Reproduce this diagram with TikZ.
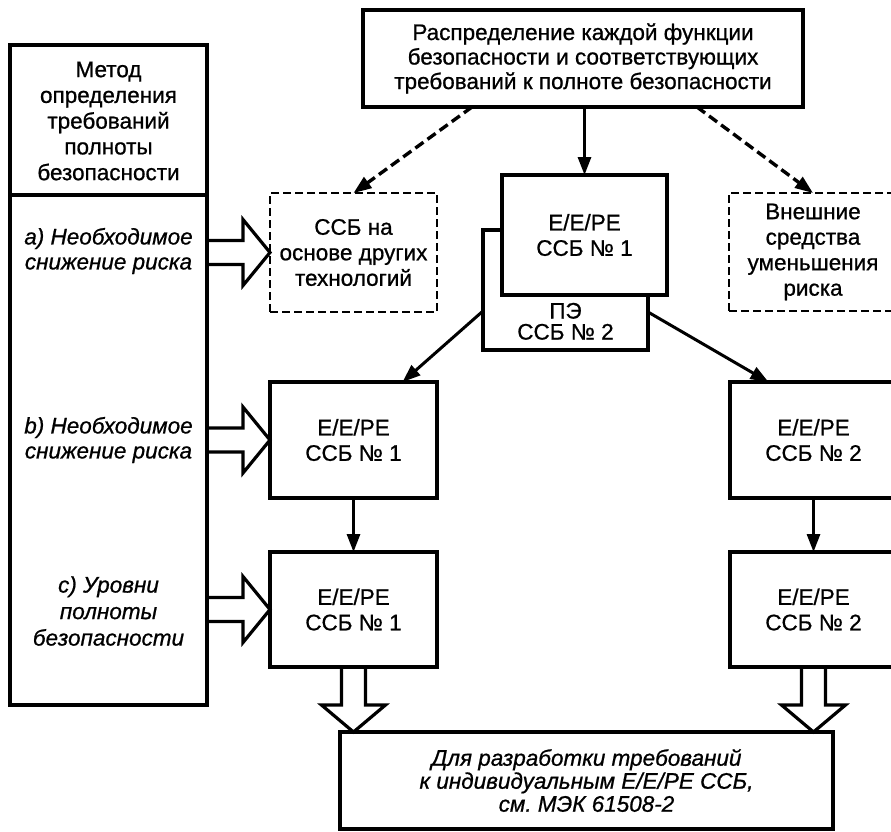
\documentclass[tikz,border=0pt]{standalone}
\usepackage{fontspec}
\setmainfont{Liberation Sans}[FakeBold=0.8]
\usepackage{tikz}
\usetikzlibrary{arrows.meta, positioning, calc}
\frenchspacing
\tikzset{
  >=Triangle,
  box/.style={draw, line width=3.4pt, fill=white, inner sep=0pt, outer sep=0pt,
    minimum width=167pt, minimum height=117pt, align=center,
    font=\fontsize{22.5pt}{25.5pt}\selectfont},
  dashbox/.style={box, line width=2.6pt, dash pattern=on 8pt off 4pt},
  plaintext/.style={inner sep=0pt, align=center, font=\fontsize{22.5pt}{25.75pt}\selectfont},
  flowarrow/.style={-{Triangle[length=18pt, width=13pt]}, line width=3pt},
  dasharrow/.style={flowarrow, line width=3.4pt, dash pattern=on 10pt off 5pt},
  blockarrow/.style={line width=3.2pt, miter limit=20}
}
% hollow arrows
\newcommand{\hollowright}[2]{%
  \draw[blockarrow] let \p1=(#1), \p2=(#2) in
    (\x1,\y2+12pt) -- (\x2-27pt,\y2+12pt) -- (\x2-27pt,\y2+33pt) -- (\x2,\y2)
    -- (\x2-27pt,\y2-33pt) -- (\x2-27pt,\y2-12pt) -- (\x1,\y2-12pt);}
\newcommand{\hollowdown}[2]{%
  \draw[blockarrow] let \p1=(#1), \p2=(#2) in
    (\x1-12pt,\y1) -- (\x1-12pt,\y2+27pt) -- (\x1-32pt,\y2+27pt) -- (\x1,\y2)
    -- (\x1+32pt,\y2+27pt) -- (\x1+12pt,\y2+27pt) -- (\x1+12pt,\y1);}

\begin{document}
\begin{tikzpicture}[x=1pt, y=-1pt]
    \useasboundingbox (0,0) rectangle (891,831);
    \clip (0,0) rectangle (891,831);
    % method column
    \node (meth) [box, minimum width=197pt, minimum height=660pt] at (108.5,375) {};
    \draw[line width=3.4pt] ($(meth.north west)+(0,150)$) -- ($(meth.north east)+(0,150)$);
    \node (methhead) [plaintext] at (108.5,121) {Метод\\определения\\требований\\полноты\\безопасности};
    \node (la) [plaintext, font=\fontsize{22.5pt}{25pt}\selectfont\itshape] at (108.5,251) {а) Необходимое\\снижение риска};
    \node (lb) [plaintext, font=\fontsize{22.5pt}{25pt}\selectfont\itshape] at (108.5,440) {b) Необходимое\\снижение риска};
    \node (lc) [plaintext, font=\fontsize{22.5pt}{26.5pt}\selectfont\itshape] at (108.5,611) {с) Уровни\\полноты\\безопасности};
    % allocation
    \node (alloc) [box, minimum width=440pt, minimum height=97pt, font=\fontsize{22.5pt}{24.5pt}\selectfont] at (583,58.5) {Распределение каждой функции\\безопасности и соответствующих\\требований к полноте безопасности};
    \node (ssb) [dashbox, minimum height=119pt] at (353.5,252.5) {ССБ на\\основе других\\технологий};
    \node (ext) [dashbox, minimum width=168pt, minimum height=118pt] at (813,252) {Внешние\\средства\\уменьшения\\риска};
    \node (pe) [box, minimum width=165pt, minimum height=120pt,
      label={[name=pelabel, anchor=south, align=center, inner sep=0pt, yshift=10pt, font=\fontsize{22.5pt}{21pt}\selectfont]south:ПЭ\\ССБ № 2}] at (565.5,290) {};
    \node (ee1) [box, minimum width=165pt, minimum height=120pt] at (584.5,235) {E/E/PE\\ССБ № 1};
    % realisation
    \node (r2l) [box, minimum height=116pt] at (353.5,440) {E/E/PE\\ССБ № 1};
    \node (r2r) [box, minimum height=116pt] at (813.5,440) {E/E/PE\\ССБ № 2};
    \node (r3l) [box, minimum height=115pt] at (353.5,609.5) {E/E/PE\\ССБ № 1};
    \node (r3r) [box, minimum height=115pt] at (813.5,609.5) {E/E/PE\\ССБ № 2};
    \node (final) [box, minimum width=493pt, minimum height=97pt, font=\fontsize{22.5pt}{23pt}\selectfont\itshape] at (586.5,780.5) {Для разработки требований\\к индивидуальным E/E/PE ССБ,\\см. МЭК 61508-2};
    % connectors
    \draw[flowarrow] (alloc.south -| ee1.north) -- (ee1.north);
    \draw[dasharrow] ($(alloc.south)+(-111,0)$) -- (ssb.north);
    \draw[dasharrow] ($(alloc.south)+(114,0)$) -- (ext.north);
    \draw[flowarrow] ($(pe.west)+(0,21)$) -- ($(r2l.north)+(49,0)$);
    \draw[flowarrow] ($(pe.east)+(0,22)$) -- ($(r2r.north)+(-45,0)$);
    \draw[flowarrow] (r2l.south) -- (r3l.north);
    \draw[flowarrow] (r2r.south) -- (r3r.north);
    \hollowright{meth.east |- la}{ssb.west}
    \hollowright{meth.east |- lb}{r2l.west}
    \hollowright{meth.east |- lc}{r3l.west}
    \hollowdown{r3l.south}{final.north}
    \hollowdown{r3r.south}{final.north}
\end{tikzpicture}
\end{document}
